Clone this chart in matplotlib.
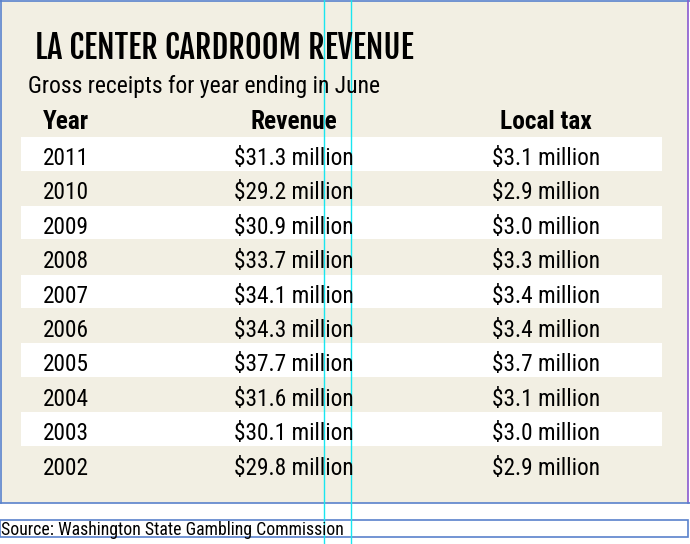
import matplotlib
matplotlib.use("Agg")
import matplotlib.pyplot as plt
from matplotlib import font_manager
from matplotlib.patches import Rectangle

# table content
title = "LA CENTER CARDROOM REVENUE"
subtitle = "Gross receipts for year ending in June"
headers = ["Year", "Revenue", "Local tax"]
years = ["2011", "2010", "2009", "2008", "2007", "2006", "2005", "2004", "2003", "2002"]
revenue = [31.3, 29.2, 30.9, 33.7, 34.1, 34.3, 37.7, 31.6, 30.1, 29.8]   # $ million
local_tax = [3.1, 2.9, 3.0, 3.3, 3.4, 3.4, 3.7, 3.1, 3.0, 2.9]         # $ million
source = "Source: Washington State Gambling Commission"

BG = "#f2efe3"
FRAME = "#5a82cc"
GUIDE = "#19e6f0"

names = {f.name for f in font_manager.fontManager.ttflist}


def pick(*cands):
    return [c for c in cands if c in names] + ["DejaVu Sans"]


HEAD_FONT = pick("Fjalla One", "Oswald", "Antonio", "Barlow Condensed")
BODY_FONT = pick("Roboto Condensed", "Barlow Semi Condensed", "Archivo Narrow", "Asap Condensed")

W, H = 690, 544
fig = plt.figure(figsize=(W / 100, H / 100), dpi=100)
ax = fig.add_axes([0, 0, 1, 1])
ax.set_xlim(0, W)
ax.set_ylim(H, 0)          # pixel-like coordinates, y downwards
ax.axis("off")
renderer = fig.canvas.get_renderer()


def fit(t, width):
    """Scale a text's font size so that it spans `width` pixels."""
    w = t.get_window_extent(renderer).width
    t.set_fontsize(t.get_fontsize() * width / w)
    return t.get_fontsize()


# panel background + layout frames
ax.add_patch(Rectangle((1, 1), 687, 502, facecolor=BG, edgecolor="none"))
ax.plot([0, W], [1, 1], color=FRAME, lw=1.2)
ax.plot([1, 1], [0, 503], color=FRAME, lw=1.2)
ax.plot([688, 688], [0, 503], color="#8a5ad0", lw=1.2)
ax.plot([0, W], [503, 503], color=FRAME, lw=1.2)
ax.add_patch(Rectangle((0, 520), 688, 17, facecolor="none", edgecolor=FRAME, lw=1.2))

# title block
t = ax.text(35, 59, title, fontsize=20, fontweight="bold", family=HEAD_FONT, va="baseline")
fit(t, 379)
t = ax.text(28, 93, subtitle, fontsize=18, family=BODY_FONT, va="baseline")
fit(t, 354)

col_x = [43, 294, 546]
ha = ["left", "center", "center"]
hs = []
for x, h, a in zip(col_x, headers, ha):
    hs.append(ax.text(x, 129, h, fontsize=18, fontweight="bold", family=BODY_FONT,
                      va="baseline", ha=a))
hsize = fit(hs[1], 87)
for h in hs:
    h.set_fontsize(hsize)

# rows
top, pitch = 137, 34.4
cells = []
for i, (yr, rev, tax) in enumerate(zip(years, revenue, local_tax)):
    y0 = top + i * pitch
    if i % 2 == 0:
        ax.add_patch(Rectangle((21, y0), 641, 33.5, facecolor="white", edgecolor="none"))
    base = y0 + 28
    cells.append(ax.text(col_x[0], base, yr, fontsize=19, family=BODY_FONT,
                         va="baseline", ha="left"))
    cells.append(ax.text(col_x[1], base, f"${rev:.1f} million", fontsize=19,
                         family=BODY_FONT, va="baseline", ha="center"))
    cells.append(ax.text(col_x[2], base, f"${tax:.1f} million", fontsize=19,
                         family=BODY_FONT, va="baseline", ha="center"))
csize = fit(cells[1], 120)
for c in cells:
    c.set_fontsize(csize)

t = ax.text(1, 535, source, fontsize=12, family=BODY_FONT, va="baseline")
fit(t, 342)

# layout guides
for gx in (324, 351):
    ax.plot([gx, gx], [0, H], color=GUIDE, lw=1)

fig.savefig("out.png", dpi=100)
